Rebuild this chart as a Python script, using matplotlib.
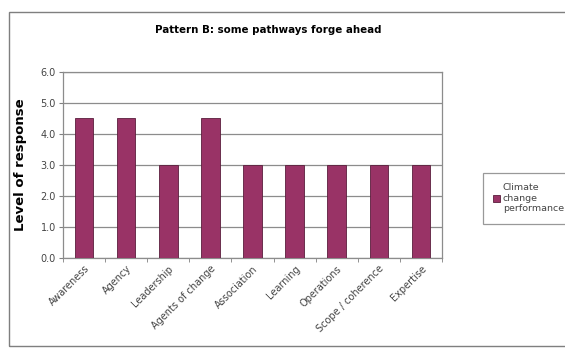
import matplotlib
matplotlib.use("Agg")
import matplotlib.pyplot as plt
from matplotlib.patches import Rectangle
import numpy as np

categories = ["Awareness", "Agency", "Leadership", "Agents of change", "Association",
              "Learning", "Operations", "Scope / coherence", "Expertise"]
values = [4.5, 4.5, 3.0, 4.5, 3.0, 3.0, 3.0, 3.0, 3.0]
series_name = "Climate\nchange\nperformance"
yticks = [0.0, 1.0, 2.0, 3.0, 4.0, 5.0, 6.0]

W, H = 565, 350
fig = plt.figure(figsize=(W/100, H/100), dpi=100)
fig.patch.set_facecolor("white")

# outer chart border
fig.add_artist(Rectangle((9/W, 1 - 346/H), (W + 5 - 9)/W, (346 - 12)/H, transform=fig.transFigure,
                         fill=False, edgecolor="#7f7f7f", linewidth=1.0))

ax = fig.add_axes([63/W, 1 - 258/H, (442 - 63)/W, (258 - 72)/H])
x = np.arange(len(categories))
color = "#993366"
ax.bar(x, values, width=0.44, color=color, edgecolor="#5a1e3c", linewidth=0.6, zorder=3,
       label=series_name)
ax.set_xlim(-0.5, len(categories) - 0.5)
ax.set_ylim(0, 6)
ax.set_yticks(yticks)
ax.set_yticklabels([f"{v:.1f}" for v in yticks], fontsize=7, color="#444444")
ax.yaxis.grid(True, color="#8c8c8c", linewidth=0.9, zorder=0)
ax.set_xticks(x)
ax.set_xticklabels(categories, rotation=45, ha="right", rotation_mode="anchor",
                   fontsize=7, color="#444444")
ax.tick_params(axis="x", length=0, pad=4)
ax.set_xticks(np.arange(-0.5, len(categories)), minor=True)
ax.tick_params(axis="x", which="minor", length=3, color="#808080")
ax.tick_params(axis="y", length=3, color="#808080", pad=2)
for s in ax.spines.values():
    s.set_color("#8c8c8c")
    s.set_linewidth(0.9)
ax.set_ylabel("Level of response", fontsize=9.5, fontweight="bold", labelpad=10)

fig.text(268/W, 1 - 30/H, "Pattern B: some pathways forge ahead",
         ha="center", va="center", fontsize=7.4, fontweight="bold")

leg = fig.legend(loc="upper left", bbox_to_anchor=(483/W, 1 - 173/H), fontsize=6.8,
                 frameon=True, fancybox=False, handlelength=0.7, handleheight=0.7,
                 handletextpad=0.3, borderpad=1.1, borderaxespad=0.0,
                 labelcolor="#444444")
leg.get_frame().set_edgecolor("#808080")
leg.get_frame().set_linewidth(0.9)

fig.savefig("out.png", dpi=100)
